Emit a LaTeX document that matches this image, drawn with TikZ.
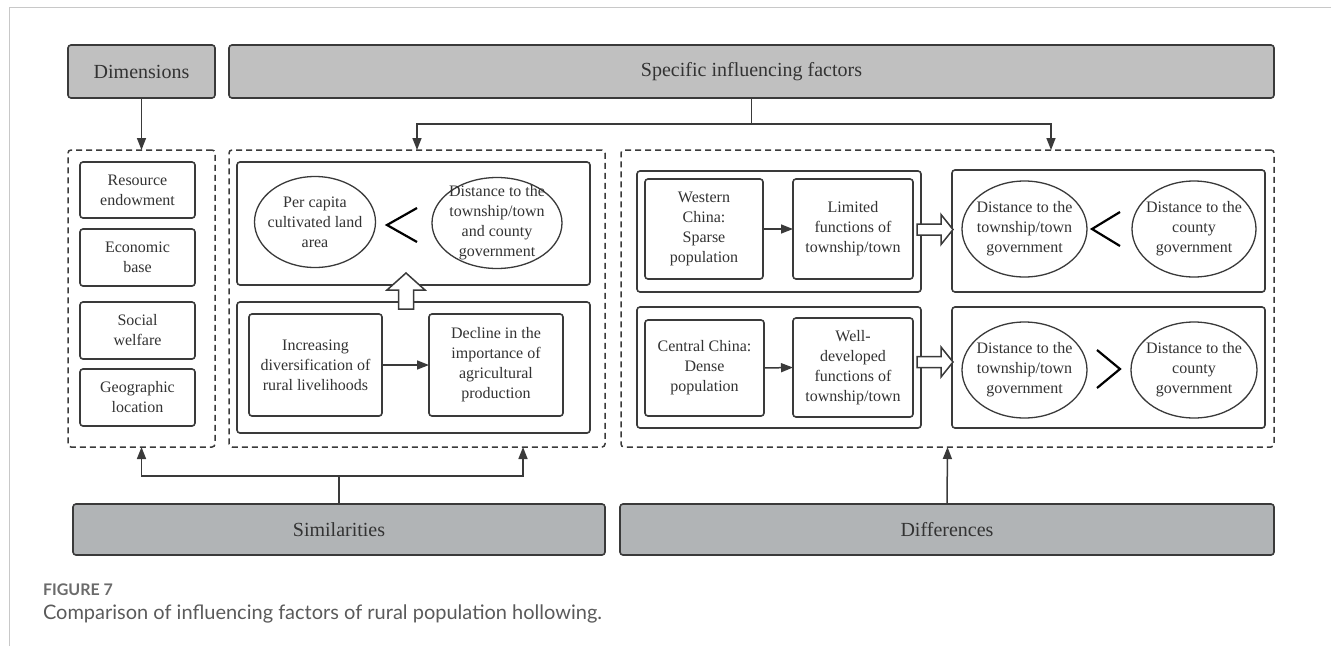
\documentclass[tikz,border=0pt]{standalone}
\usepackage{fontspec}
\setmainfont{Liberation Serif}
\newfontfamily\capfont{Lato}
\usetikzlibrary{arrows.meta,shapes.geometric}
\definecolor{ln}{HTML}{3A3A3A}
\definecolor{hdr}{HTML}{C0C0C0}
\definecolor{ftr}{HTML}{B1B4B6}
\definecolor{txt}{HTML}{333333}
\definecolor{frm}{HTML}{C8C8C8}
\definecolor{capg}{HTML}{6B6B6B}
\definecolor{capt}{HTML}{5A5A5A}
\begin{document}
\begin{tikzpicture}[x=1pt,y=-1pt,
  every node/.style={inner sep=0pt, outer sep=0pt, text=txt, align=center},
  hdrbox/.style={draw=ln, fill=hdr, rounded corners=3pt, line width=1.6pt, font=\fontsize{20}{24}\selectfont},
  ftrbox/.style={hdrbox, fill=ftr},
  dashbox/.style={draw=ln, line width=1.5pt, dash pattern=on 6pt off 4pt, rounded corners=3pt},
  solidbox/.style={draw=ln, line width=1.6pt, rounded corners=3pt, fill=white},
  itembox/.style={solidbox, font=\fontsize{16}{20}\selectfont},
  oval/.style={ellipse, draw=ln, line width=1.3pt},
  ovaltext/.style={font=\fontsize{16}{20}\selectfont},
  conn/.style={draw=ln, line width=1.5pt},
  arr/.style={conn, -{Triangle[length=12pt,width=9pt]}},
  hollow/.style={draw=ln, line width=1.5pt, fill=white, line join=miter},
  cmp/.style={draw=black, line width=2.2pt}
]
\useasboundingbox (0,0) rectangle (1331,646);
% frame
\draw[frm, line width=1pt] (9,646) -- (9,7) -- (1331,7);

% header boxes
\node[hdrbox, minimum width=147pt, minimum height=53pt] (dim) at (141.5,71.5) {Dimensions};
\node[hdrbox, minimum width=1045pt, minimum height=53pt] (spec) at (751.5,71.5) {Specific influencing factors};

% dashed groups
\node[dashbox, minimum width=147pt, minimum height=297pt] (L) at (141.5,298.5) {};
\node[dashbox, minimum width=376pt, minimum height=297pt] (M) at (417,298.5) {};
\node[dashbox, minimum width=653pt, minimum height=297pt] (R) at (947.5,298.5) {};

% footer boxes
\node[ftrbox, minimum width=532pt, minimum height=51pt] (sim) at (339,529.5) {Similarities};
\node[ftrbox, minimum width=654pt, minimum height=51pt] (diff) at (947,529.5) {Differences};

% left column
\node[itembox, minimum width=115pt, minimum height=56pt] (res) at (137.5,190) {Resource\\endowment};
\node[itembox, minimum width=115pt, minimum height=57pt] (eco) at (137.5,257.5) {Economic\\base};
\node[itembox, minimum width=115pt, minimum height=57pt] (soc) at (137.5,330.5) {Social\\welfare};
\node[itembox, minimum width=115pt, minimum height=57pt] (geo) at (137.5,397.5) {Geographic\\location};

% middle group
\node[solidbox, minimum width=353pt, minimum height=123pt] (mup) at (413.5,223.5) {};
\node[solidbox, minimum width=353pt, minimum height=131pt] (mlo) at (413.5,367.5) {};
\node[oval, minimum width=121pt, minimum height=91pt] (pc) at (315,222) {};
\node[ovaltext] at (pc) {Per capita\\cultivated land\\area};
\node[oval, minimum width=130pt, minimum height=91pt] (dtc) at (497,223) {};
\node[ovaltext] at (dtc) {Distance to the\\township/town\\and county\\government};
\draw[cmp] (417,208) -- (387,225) -- (417,242);
\node[itembox, minimum width=133pt, minimum height=102pt] (inc) at (315.5,365) {Increasing\\diversification of\\rural livelihoods};
\node[itembox, minimum width=134pt, minimum height=102pt] (dec) at (496,365) {Decline in the\\importance of\\agricultural\\production};
\draw[arr] (inc.east) -- (dec.west);

% right group
\node[solidbox, minimum width=284pt, minimum height=121pt] (rul) at (779,231.5) {};
\node[solidbox, minimum width=284pt, minimum height=121pt] (rll) at (779,367.5) {};
\node[solidbox, minimum width=313pt, minimum height=122pt] (rur) at (1108.5,231) {};
\node[solidbox, minimum width=313pt, minimum height=121pt] (rlr) at (1108.5,367.5) {};
\node[itembox, minimum width=118pt, minimum height=100pt] (west) at (704,229) {Western\\China:\\Sparse\\population};
\node[itembox, minimum width=120pt, minimum height=100pt] (lim) at (853,229) {Limited\\functions of\\township/town};
\draw[arr] (west.east) -- (lim.west);
\node[itembox, minimum width=119pt, minimum height=96pt] (cen) at (704.5,368) {Central China:\\Dense\\population};
\node[itembox, minimum width=120pt, minimum height=99pt] (well) at (853,367.5) {Well-\\developed\\functions of\\township/town};
\draw[arr] (cen.east) -- (well.west);

\node[oval, minimum width=125pt, minimum height=96pt] (e1) at (1024.5,229) {};
\node[ovaltext] at (e1) {Distance to the\\township/town\\government};
\node[oval, minimum width=124pt, minimum height=96pt] (e2) at (1194,229) {};
\node[ovaltext] at (e2) {Distance to the\\county\\government};
\draw[cmp] (1120,212) -- (1092,229) -- (1120,246);
\node[oval, minimum width=125pt, minimum height=96pt] (e3) at (1024.5,370) {};
\node[ovaltext] at (e3) {Distance to the\\township/town\\government};
\node[oval, minimum width=126pt, minimum height=96pt] (e4) at (1194,370) {};
\node[ovaltext] at (e4) {Distance to the\\county\\government};
\draw[cmp] (1097,350) -- (1120,369) -- (1097,388);

% hollow block arrows
\draw[hollow] (398.5,309) -- (398.5,290) -- (387,290) -- (406,273) -- (425,290) -- (413.5,290) -- (413.5,309) -- cycle;
\draw[hollow] (917,224) -- (941,224) -- (941,214.5) -- (953,229.5) -- (941,244.5) -- (941,235) -- (917,235) -- cycle;
\draw[hollow] (917,356.5) -- (941,356.5) -- (941,347) -- (953,362) -- (941,377) -- (941,367.5) -- (917,367.5) -- cycle;

% connectors
\draw[arr] (dim.south) -- (L.north);
\coordinate (sj) at (751.5,124);
\coordinate (rin) at (1051,150);
\draw[conn] (spec.south) -- (sj);
\draw[arr] (sj) -| (M.north);
\draw[arr] (sj) -| (rin);
\coordinate (sm) at (339,476);
\coordinate (min) at (523,447);
\draw[conn] (sim.north) -- (sm);
\draw[arr] (sm) -| (L.south);
\draw[arr] (sm) -| (min);
\draw[arr] (diff.north) -- (R.south);

% caption
\node[anchor=base west, font=\capfont\bfseries\fontsize{16}{19}\selectfont, text=capg] (figlbl) at (43,595) {FIGURE 7};
\node[anchor=base west, font=\capfont\fontsize{20}{24}\selectfont, text=capt] (figcap) at (43,619) {Comparison of influencing factors of rural population hollowing.};
\end{tikzpicture}
\end{document}
